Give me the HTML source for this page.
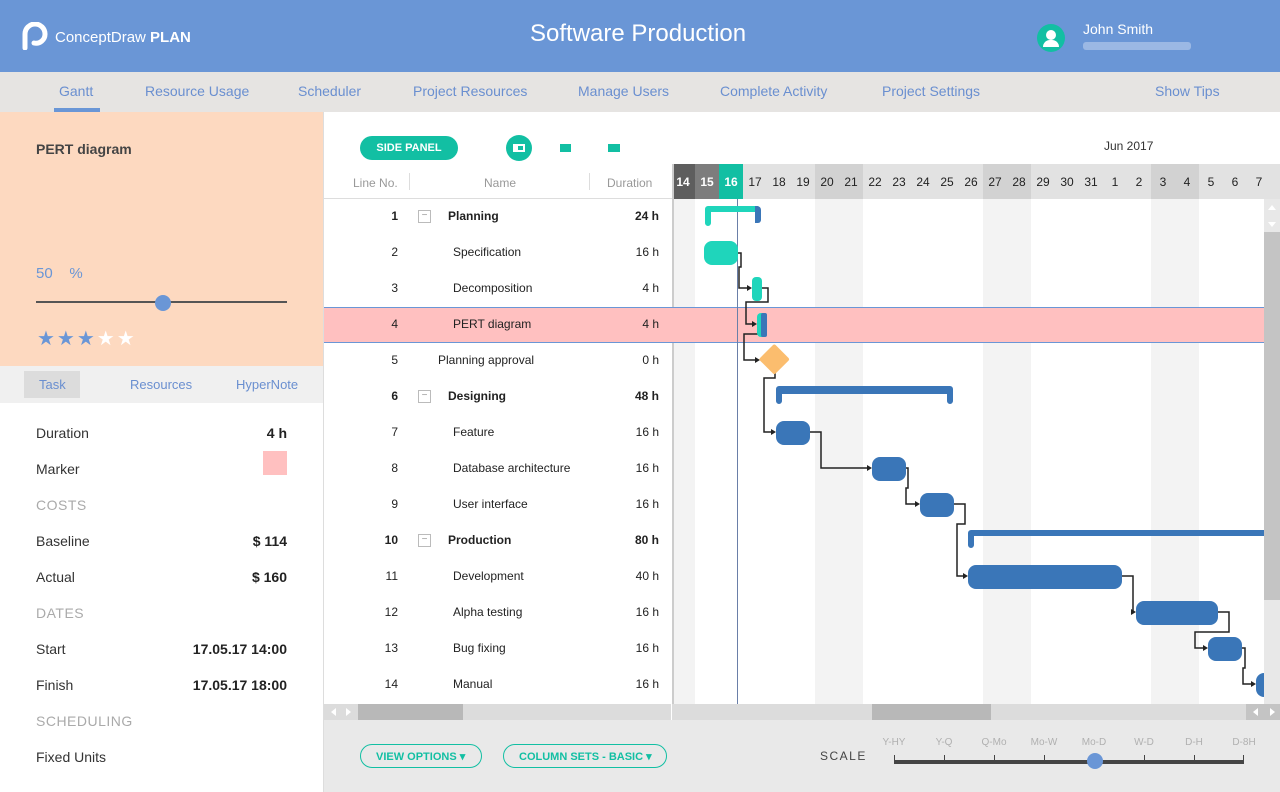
<!DOCTYPE html>
<html><head><meta charset="utf-8"><style>
*{margin:0;padding:0;box-sizing:border-box}
body{width:1280px;height:792px;position:relative;overflow:hidden;font-family:"Liberation Sans",sans-serif;background:#fff;color:#222}
.a{position:absolute;white-space:nowrap}
.nav{font-size:14px;color:#6a8fd0;top:83px}
.lp{font-size:14px;color:#333;left:36px}
.rv{font-size:14px;color:#222;font-weight:bold;right:993px;text-align:right}
.sec{font-size:14px;color:#aaa;left:36px;letter-spacing:.5px}
.ln{font-size:12px;color:#222;width:30px;text-align:right;left:368px}
.nm{font-size:12px;color:#222}
.du{font-size:12px;color:#222;right:621px;text-align:right}
.b{font-weight:bold}
</style></head><body>
<div class="a" style="left:0;top:0;width:1280px;height:72px;background:#6a96d6"></div>
<svg class="a" style="left:22px;top:22px" width="26" height="28"><path d="M3 26V12A10 10 0 0 1 23 12A9 9 0 0 1 12 21" fill="none" stroke="#fff" stroke-width="5" stroke-linecap="round"/></svg>
<div class="a" style="left:55px;top:29px;font-size:15px;color:#fff">ConceptDraw <b>PLAN</b></div>
<div class="a" style="left:530px;top:20px;font-size:24px;color:#fff">Software Production</div>
<div class="a" style="left:1037px;top:24px;width:28px;height:28px;border-radius:50%;background:#12bfa3"></div>
<div class="a" style="left:1046px;top:30px;width:10px;height:10px;border-radius:50%;background:#fff"></div>
<div class="a" style="left:1043px;top:40px;width:16px;height:7px;border-radius:8px 8px 0 0;background:#fff"></div>
<div class="a" style="left:1083px;top:21px;font-size:14px;color:#fff">John Smith</div>
<div class="a" style="left:1083px;top:42px;width:108px;height:8px;background:#9bb8e4;border-radius:3px"></div>
<div class="a" style="left:0;top:72px;width:1280px;height:40px;background:#e6e4e2"></div>
<div class="a nav" style="left:59px">Gantt</div>
<div class="a" style="left:54px;top:108px;width:46px;height:4px;background:#6a96d6"></div>
<div class="a nav" style="left:145px">Resource Usage</div>
<div class="a nav" style="left:298px">Scheduler</div>
<div class="a nav" style="left:413px">Project Resources</div>
<div class="a nav" style="left:578px">Manage Users</div>
<div class="a nav" style="left:720px">Complete Activity</div>
<div class="a nav" style="left:882px">Project Settings</div>
<div class="a nav" style="left:1155px">Show Tips</div>
<div class="a" style="left:0;top:112px;width:323px;height:254px;background:#fdd9c0"></div>
<div class="a" style="left:36px;top:141px;font-size:14px;color:#444;font-weight:bold">PERT diagram</div>
<div class="a" style="left:36px;top:265px;font-size:15px;color:#6a96d6">50 &nbsp;&nbsp; %</div>
<div class="a" style="left:36px;top:301px;width:251px;height:2px;background:#555"></div>
<div class="a" style="left:155px;top:295px;width:16px;height:16px;border-radius:50%;background:#6a96d6"></div>
<div class="a" style="left:37px;top:326px;font-size:20px;color:#6a96d6;letter-spacing:2px">★★★<span style="color:#fff">★★</span></div>
<div class="a" style="left:0;top:366px;width:323px;height:37px;background:#f0f0f0"></div>
<div class="a" style="left:24px;top:371px;width:56px;height:27px;background:#dcdcdc"></div>
<div class="a" style="left:39px;top:377px;font-size:13px;color:#6a8fd0">Task</div>
<div class="a" style="left:130px;top:377px;font-size:13px;color:#6a8fd0">Resources</div>
<div class="a" style="left:236px;top:377px;font-size:13px;color:#6a8fd0">HyperNote</div>
<div class="a" style="left:323px;top:112px;width:1px;height:680px;background:#ddd"></div>
<div class="a lp" style="top:425px">Duration</div><div class="a rv" style="top:425px">4 h</div>
<div class="a lp" style="top:461px">Marker</div>
<div class="a" style="left:263px;top:451px;width:24px;height:24px;background:#ffc0c0"></div>
<div class="a sec" style="top:497px">COSTS</div>
<div class="a lp" style="top:533px">Baseline</div><div class="a rv" style="top:533px">$ 114</div>
<div class="a lp" style="top:569px">Actual</div><div class="a rv" style="top:569px">$ 160</div>
<div class="a sec" style="top:605px">DATES</div>
<div class="a lp" style="top:641px">Start</div><div class="a rv" style="top:641px">17.05.17 14:00</div>
<div class="a lp" style="top:677px">Finish</div><div class="a rv" style="top:677px">17.05.17 18:00</div>
<div class="a sec" style="top:713px">SCHEDULING</div>
<div class="a lp" style="top:749px">Fixed Units</div>
<div class="a" style="left:360px;top:136px;width:98px;height:24px;border-radius:12px;background:#12bfa3;color:#fff;font-size:11px;font-weight:bold;text-align:center;line-height:24px">SIDE PANEL</div>
<div class="a" style="left:506px;top:135px;width:26px;height:26px;border-radius:50%;background:#12bfa3"></div>
<div class="a" style="left:513px;top:144px;width:12px;height:8px;border:2px solid #fff;border-left-width:5px"></div>
<div class="a" style="left:560px;top:144px;width:13px;height:8px;background:#12bfa3;border-right:2px solid #fff"></div>
<div class="a" style="left:608px;top:144px;width:12px;height:8px;background:#12bfa3"></div>
<div class="a" style="left:1104px;top:139px;font-size:12px;color:#333">Jun 2017</div>
<div class="a" style="left:353px;top:176px;font-size:12px;color:#999">Line No.</div>
<div class="a" style="left:409px;top:173px;width:1px;height:17px;background:#ddd"></div>
<div class="a" style="left:484px;top:176px;font-size:12px;color:#999">Name</div>
<div class="a" style="left:589px;top:173px;width:1px;height:17px;background:#ddd"></div>
<div class="a" style="left:607px;top:176px;font-size:12px;color:#999">Duration</div>
<div class="a" style="left:324px;top:198px;width:348px;height:1px;background:#ddd"></div>
<div class="a" style="left:324px;top:307px;width:940px;height:36px;background:#ffc0c0;border-top:1px solid #6a96d6;border-bottom:1px solid #6a96d6"></div>
<div class="a ln b" style="top:209px">1</div><div class="a" style="left:418px;top:210px;width:13px;height:13px;border:1px solid #bbb;font-size:10px;color:#999;text-align:center;line-height:10px">−</div><div class="a nm b" style="left:448px;top:209px">Planning</div><div class="a du b" style="top:209px">24 h</div>
<div class="a ln" style="top:245px">2</div><div class="a nm" style="left:453px;top:245px">Specification</div><div class="a du" style="top:245px">16 h</div>
<div class="a ln" style="top:281px">3</div><div class="a nm" style="left:453px;top:281px">Decomposition</div><div class="a du" style="top:281px">4 h</div>
<div class="a ln" style="top:317px">4</div><div class="a nm" style="left:453px;top:317px">PERT diagram</div><div class="a du" style="top:317px">4 h</div>
<div class="a ln" style="top:353px">5</div><div class="a nm" style="left:438px;top:353px">Planning approval</div><div class="a du" style="top:353px">0 h</div>
<div class="a ln b" style="top:389px">6</div><div class="a" style="left:418px;top:390px;width:13px;height:13px;border:1px solid #bbb;font-size:10px;color:#999;text-align:center;line-height:10px">−</div><div class="a nm b" style="left:448px;top:389px">Designing</div><div class="a du b" style="top:389px">48 h</div>
<div class="a ln" style="top:425px">7</div><div class="a nm" style="left:453px;top:425px">Feature</div><div class="a du" style="top:425px">16 h</div>
<div class="a ln" style="top:461px">8</div><div class="a nm" style="left:453px;top:461px">Database architecture</div><div class="a du" style="top:461px">16 h</div>
<div class="a ln" style="top:497px">9</div><div class="a nm" style="left:453px;top:497px">User interface</div><div class="a du" style="top:497px">16 h</div>
<div class="a ln b" style="top:533px">10</div><div class="a" style="left:418px;top:534px;width:13px;height:13px;border:1px solid #bbb;font-size:10px;color:#999;text-align:center;line-height:10px">−</div><div class="a nm b" style="left:448px;top:533px">Production</div><div class="a du b" style="top:533px">80 h</div>
<div class="a ln" style="top:569px">11</div><div class="a nm" style="left:453px;top:569px">Development</div><div class="a du" style="top:569px">40 h</div>
<div class="a ln" style="top:605px">12</div><div class="a nm" style="left:453px;top:605px">Alpha testing</div><div class="a du" style="top:605px">16 h</div>
<div class="a ln" style="top:641px">13</div><div class="a nm" style="left:453px;top:641px">Bug fixing</div><div class="a du" style="top:641px">16 h</div>
<div class="a ln" style="top:677px">14</div><div class="a nm" style="left:453px;top:677px">Manual</div><div class="a du" style="top:677px">16 h</div>
<svg class="a" style="left:0;top:0" width="1280" height="792">
<g fill="#f3f3f3">
<rect x="673" y="199" width="22" height="505"/>
<rect x="815" y="199" width="48" height="505"/>
<rect x="983" y="199" width="48" height="505"/>
<rect x="1151" y="199" width="48" height="505"/>
</g>
<rect x="672" y="164" width="608" height="35" fill="#e2e2e2"/>
<rect x="672" y="164" width="23" height="35" fill="#5e5e5e"/>
<rect x="695" y="164" width="24" height="35" fill="#7d7d7d"/>
<rect x="719" y="164" width="24" height="35" fill="#12bfa3"/>
<rect x="815" y="164" width="48" height="35" fill="#d2d2d2"/>
<rect x="983" y="164" width="48" height="35" fill="#d2d2d2"/>
<rect x="1151" y="164" width="48" height="35" fill="#d2d2d2"/>
<g font-family="Liberation Sans" font-size="12" fill="#222" text-anchor="middle" font-weight="bold">
<text x="683" y="186" fill="#fff">14</text><text x="707" y="186" fill="#fff">15</text><text x="731" y="186" fill="#fff">16</text>
<text x="755" y="186" font-weight="normal">17</text><text x="779" y="186" font-weight="normal">18</text><text x="803" y="186" font-weight="normal">19</text>
<text x="827" y="186" font-weight="normal">20</text><text x="851" y="186" font-weight="normal">21</text><text x="875" y="186" font-weight="normal">22</text>
<text x="899" y="186" font-weight="normal">23</text><text x="923" y="186" font-weight="normal">24</text><text x="947" y="186" font-weight="normal">25</text>
<text x="971" y="186" font-weight="normal">26</text><text x="995" y="186" font-weight="normal">27</text><text x="1019" y="186" font-weight="normal">28</text>
<text x="1043" y="186" font-weight="normal">29</text><text x="1067" y="186" font-weight="normal">30</text><text x="1091" y="186" font-weight="normal">31</text>
<text x="1115" y="186" font-weight="normal">1</text><text x="1139" y="186" font-weight="normal">2</text><text x="1163" y="186" font-weight="normal">3</text>
<text x="1187" y="186" font-weight="normal">4</text><text x="1211" y="186" font-weight="normal">5</text><text x="1235" y="186" font-weight="normal">6</text>
<text x="1259" y="186" font-weight="normal">7</text>
</g>
<rect x="672" y="164" width="2" height="540" fill="#ccc"/>
<rect x="672" y="307" width="592" height="36" fill="#ffc0c0"/>
<line x1="672" y1="307.5" x2="1264" y2="307.5" stroke="#6a96d6"/>
<line x1="672" y1="342.5" x2="1264" y2="342.5" stroke="#6a96d6"/>
<line x1="737.5" y1="199" x2="737.5" y2="704" stroke="#6a7fa8"/>
<g fill="none" stroke="#222" stroke-width="1.5">
<path d="M737 253h4v14h-2v21h9"/>
<path d="M762 288h6v14h-22v22h8"/>
<path d="M766 324v10h-22v26h12"/>
<path d="M775 372v6h-11v54h8"/>
<path d="M809 432h12v36h47"/>
<path d="M905 468h3v20h-2v16h10"/>
<path d="M953 504h12v20h-8v52h7"/>
<path d="M1121 576h12v36h-1"/>
<path d="M1217 612h12v20h-34v16h9"/>
<path d="M1241 648h4v20h-2v16h9"/>
</g>
<g fill="#222">
<path d="M752 288l-5-3v6z"/><path d="M757 324l-5-3v6z"/><path d="M760 360l-5-3v6z"/>
<path d="M776 432l-5-3v6z"/><path d="M872 468l-5-3v6z"/><path d="M920 504l-5-3v6z"/>
<path d="M968 576l-5-3v6z"/><path d="M1136 612l-5-3v6z"/><path d="M1208 648l-5-3v6z"/><path d="M1256 684l-5-3v6z"/>
</g>
<path d="M708 206h50v6h-47v11a3 3 0 0 1-6 0v-14a3 3 0 0 1 3-3z" fill="#1fd5bb"/>
<path d="M755 206h2a4 4 0 0 1 4 4v10a3 3 0 0 1-3 3h-3z" fill="#3a76b8"/>
<rect x="704" y="241" width="34" height="24" rx="8" fill="#1fd5bb"/>
<rect x="752" y="277" width="10" height="24" rx="4" fill="#1fd5bb"/>
<rect x="757" y="313" width="10" height="24" rx="4" fill="#1fd5bb"/>
<rect x="761" y="313" width="6" height="24" rx="2" fill="#3a76b8"/>
<rect x="763" y="349" width="22" height="22" fill="#fbbd6e" transform="rotate(45 775 360)" rx="2"/>
<path d="M779 386h171a3 3 0 0 1 3 3v12a3 3 0 0 1-6 0v-7h-165v7a3 3 0 0 1-6 0v-12a3 3 0 0 1 3-3z" fill="#3a76b8"/>
<rect x="776" y="421" width="34" height="24" rx="8" fill="#3a76b8"/>
<rect x="872" y="457" width="34" height="24" rx="8" fill="#3a76b8"/>
<rect x="920" y="493" width="34" height="24" rx="8" fill="#3a76b8"/>
<path d="M971 530h293v6h-290v9a3 3 0 0 1-6 0v-12a3 3 0 0 1 3-3z" fill="#3a76b8"/>
<rect x="968" y="565" width="154" height="24" rx="8" fill="#3a76b8"/>
<rect x="1136" y="601" width="82" height="24" rx="8" fill="#3a76b8"/>
<rect x="1208" y="637" width="34" height="24" rx="8" fill="#3a76b8"/>
<rect x="1256" y="673" width="20" height="24" rx="8" fill="#3a76b8"/>
<rect x="1264" y="199" width="16" height="505" fill="#e8e8e8"/>
<rect x="1264" y="232" width="16" height="368" fill="#c4c4c4"/>
<path d="M1268 210l4-5 4 5z M1268 222l4 5 4-5z" fill="#fff"/>
<rect x="324" y="704" width="347" height="16" fill="#dcdcdc"/>
<rect x="358" y="704" width="105" height="16" fill="#b8b8b8"/>
<rect x="672" y="704" width="608" height="16" fill="#dcdcdc"/>
<rect x="872" y="704" width="119" height="16" fill="#b8b8b8"/>
<rect x="1246" y="704" width="34" height="16" fill="#c4c4c4"/>
<path d="M331 712l5-4v8z M351 712l-5-4v8z M1253 712l5-4v8z M1275 712l-5-4v8z" fill="#fff"/>
<rect x="324" y="720" width="956" height="72" fill="#e9e9e9"/>
<rect x="360.5" y="744.5" width="121" height="23" rx="11.5" fill="none" stroke="#12bfa3"/>
<rect x="503.5" y="744.5" width="163" height="23" rx="11.5" fill="none" stroke="#12bfa3"/>
<g font-family="Liberation Sans" font-size="11" fill="#12bfa3" font-weight="bold">
<text x="376" y="760">VIEW OPTIONS ▾</text><text x="519" y="760">COLUMN SETS - BASIC ▾</text>
</g>
<text x="820" y="760" font-family="Liberation Sans" font-size="12" fill="#444" letter-spacing="1.5">SCALE</text>
<rect x="894" y="760" width="350" height="4" fill="#444"/>
<g fill="#444"><rect x="894" y="755" width="1" height="6"/><rect x="944" y="755" width="1" height="6"/><rect x="994" y="755" width="1" height="6"/><rect x="1044" y="755" width="1" height="6"/><rect x="1144" y="755" width="1" height="6"/><rect x="1194" y="755" width="1" height="6"/><rect x="1243" y="755" width="1" height="6"/></g>
<circle cx="1095" cy="761" r="8" fill="#6a96d6"/>
<g font-family="Liberation Sans" font-size="10" fill="#b0b0b0" text-anchor="middle">
<text x="894" y="745">Y-HY</text><text x="944" y="745">Y-Q</text><text x="994" y="745">Q-Mo</text><text x="1044" y="745">Mo-W</text><text x="1094" y="745">Mo-D</text><text x="1144" y="745">W-D</text><text x="1194" y="745">D-H</text><text x="1244" y="745">D-8H</text>
</g>
</svg>
</body></html>
